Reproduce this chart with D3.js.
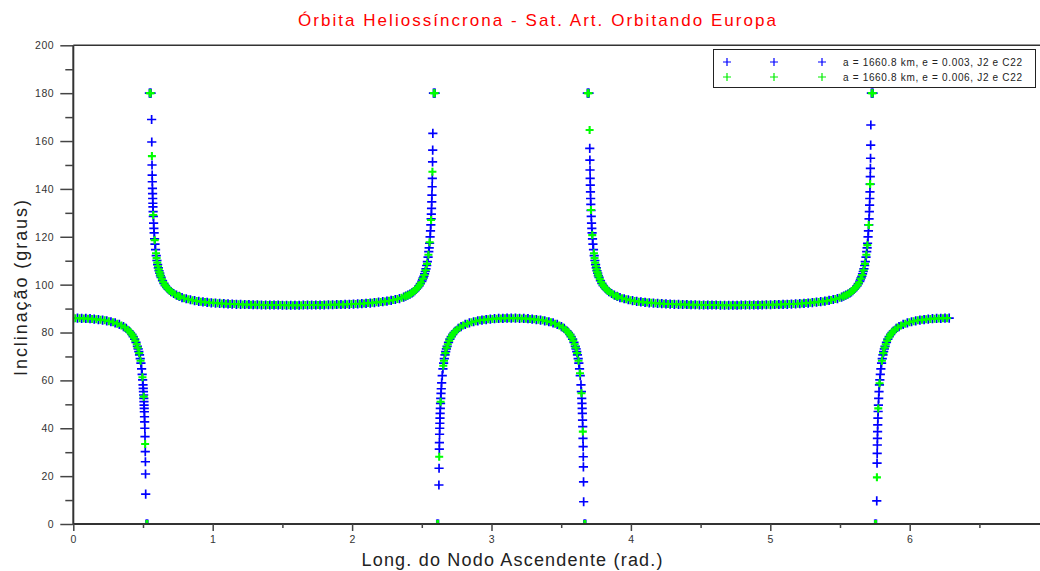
<!DOCTYPE html>
<html>
<head>
<meta charset="utf-8">
<script src="https://cdn.jsdelivr.net/npm/d3@7"></script>
<style>
  body { margin: 0; background: #fff; }
  text { font-family: "Liberation Sans", Arial, sans-serif; }
</style>
</head>
<body>
<svg id="chart" width="1040" height="571"></svg>
<script>
// texts
var titleText = "Órbita Heliossíncrona - Sat. Art. Orbitando Europa";
var xLabelText = "Long. do Nodo Ascendente (rad.)";
var yLabelText = "Inclinação (graus)";
var legendLabels = ["a = 1660.8 km, e = 0.003, J2 e C22", "a = 1660.8 km, e = 0.006, J2 e C22"];

// ticks
var xTicks = [0, 1, 2, 3, 4, 5, 6];
var xMinorTicks = [0.5, 1.5, 2.5, 3.5, 4.5, 5.5, 6.5];
var yTicks = [0, 20, 40, 60, 80, 100, 120, 140, 160, 180, 200];
var yMinorTicks = [10, 30, 50, 70, 90, 110, 130, 150, 170, 190];

// [longitude of ascending node (rad), inclination (deg)]
var blueSeries = [
  [0,86.0],[0.03,86.0],[0.06,85.9],[0.09,85.9],[0.12,85.8],[0.15,85.6],[0.18,85.4],[0.21,85.2],[0.24,84.9],[0.27,84.5],
  [0.30,84.0],[0.33,83.4],[0.36,82.5],[0.38,81.7],[0.40,80.6],[0.41,80.0],[0.42,79.2],[0.43,78.3],[0.44,77.2],[0.45,75.9],
  [0.46,74.2],[0.465,73.2],[0.47,72.0],[0.475,70.7],[0.48,69.1],[0.485,67.2],[0.49,64.8],[0.494,62.5],[0.4975,60.2],
  [0.5002,58.1],[0.5017,56.7],[0.5032,55.3],[0.5045,53.9],[0.5057,52.5],[0.5068,51.1],[0.5078,49.7],[0.5087,48.3],
  [0.5096,46.9],[0.5108,44.8],[0.5119,42.7],[0.5131,40.0],[0.5144,36.5],[0.5163,30.2],[0.5173,26.0],[0.5182,20.9],
  [0.5193,12.5],[0.522,0],[0.528,0],[0.534,0],
  [0.546,180],[0.552,180],[0.558,180],[0.5619,169.0],[0.5629,159.6],[0.5647,150.0],[0.5658,145.8],[0.5667,143.0],
  [0.5677,140.2],[0.5686,138.0],[0.5695,136.0],[0.5705,134.0],[0.5714,132.5],[0.5726,130.5],[0.574,128.5],[0.576,125.7],
  [0.578,123.5],[0.58,121.6],[0.583,119.1],[0.586,116.9],[0.59,114.6],[0.595,112.1],[0.6,110.1],[0.605,108.4],[0.61,107.0],
  [0.615,105.8],[0.62,104.8],[0.625,103.8],[0.63,103.0],[0.64,101.7],[0.65,100.5],[0.66,99.6],[0.67,98.8],[0.68,98.2],
  [0.69,97.6],[0.70,97.1],[0.72,96.3],[0.74,95.6],[0.76,95.1],[0.78,94.6],[0.81,94.1],[0.84,93.7],[0.87,93.3],[0.90,93.0],
  [0.93,92.8],[0.96,92.6],[0.99,92.4],[1.02,92.3],[1.05,92.2],[1.08,92.1],[1.11,92.0],[1.14,91.9],[1.17,91.8],[1.20,91.8],
  [1.23,91.7],[1.26,91.7],[1.29,91.6],[1.32,91.6],[1.35,91.5],[1.38,91.5],[1.41,91.5],[1.44,91.5],[1.47,91.5],[1.50,91.4],
  [1.53,91.4],[1.56,91.4],[1.59,91.4],[1.62,91.4],[1.65,91.5],[1.68,91.5],[1.71,91.5],[1.74,91.5],[1.77,91.5],[1.80,91.5],
  [1.83,91.6],[1.86,91.6],[1.89,91.7],[1.92,91.7],[1.95,91.8],[1.98,91.8],[2.01,91.9],[2.04,92.0],[2.07,92.1],[2.10,92.2],
  [2.13,92.3],[2.16,92.5],[2.19,92.7],[2.22,92.9],[2.25,93.1],[2.28,93.4],[2.31,93.8],[2.34,94.2],[2.37,94.8],[2.385,95.2],
  [2.40,95.6],[2.415,96.0],[2.43,96.6],[2.44,97.0],[2.45,97.5],[2.46,98.1],[2.47,98.7],[2.48,99.5],[2.49,100.4],[2.50,101.4],
  [2.505,102.1],[2.51,102.8],[2.515,103.5],[2.52,104.5],[2.525,105.5],[2.53,106.6],[2.535,108.0],[2.54,109.6],[2.545,111.5],
  [2.55,113.8],[2.553,115.4],[2.556,117.3],[2.5596,120.0],[2.5624,122.5],[2.5648,125.0],[2.5669,127.5],[2.5684,129.5],
  [2.5699,131.9],[2.5714,134.6],[2.5727,137.4],[2.5742,140.9],[2.5754,144.4],[2.5772,151.3],[2.5782,156.2],[2.5792,163.2],
  [2.5836,180],[2.5896,180],[2.5956,180],
  [2.6076,0],[2.6136,0],[2.6196,0],[2.6227,16.3],[2.6238,23.3],[2.6256,31.3],[2.6263,34.0],[2.6275,37.5],[2.6285,40.0],
  [2.6295,42.1],[2.6305,44.2],[2.6316,46.2],[2.6329,48.3],[2.6343,50.4],[2.6359,52.5],[2.6378,54.6],[2.6397,56.5],
  [2.6425,59.0],[2.6466,62.0],[2.6516,64.8],[2.6566,67.2],[2.6616,69.1],[2.6666,70.7],[2.6716,72.0],[2.6766,73.2],
  [2.6816,74.2],[2.6916,75.9],[2.7016,77.2],[2.7116,78.3],[2.7216,79.2],[2.7316,80.0],[2.7416,80.6],[2.7616,81.7],
  [2.7816,82.5],[2.8116,83.4],[2.8416,84.0],[2.8716,84.5],[2.9016,84.9],[2.9316,85.2],[2.9616,85.4],[2.9916,85.6],
  [3.0216,85.8],[3.0516,85.9],[3.0816,85.9],[3.1116,86.0],[3.1416,86.0],[3.1716,86.0],[3.2016,85.9],[3.2316,85.9],
  [3.2616,85.8],[3.2916,85.6],[3.3216,85.4],[3.3516,85.2],[3.3816,84.9],[3.4116,84.5],[3.4416,84.0],[3.4716,83.4],
  [3.5016,82.5],[3.5216,81.7],[3.5416,80.6],[3.5516,80.0],[3.5616,79.2],[3.5716,78.3],[3.5816,77.2],[3.5916,75.9],
  [3.6016,74.2],[3.6066,73.2],[3.6116,72.0],[3.6166,70.7],[3.6216,69.1],[3.6266,67.2],[3.6316,64.8],[3.6366,62.0],
  [3.6418,58.1],[3.6448,55.3],[3.6473,52.5],[3.6489,50.4],[3.6503,48.3],[3.6516,46.2],[3.6531,43.4],[3.6544,40.7],
  [3.6563,35.8],[3.6574,32.3],[3.6584,28.1],[3.6593,23.9],[3.6603,17.6],[3.6611,9.3],[3.6636,0],[3.6696,0],[3.6756,0],
  [3.6876,180],[3.6936,180],[3.6996,180],[3.7049,156.9],[3.7058,152.0],[3.7068,147.9],[3.7078,144.4],[3.7088,141.6],
  [3.7099,138.8],[3.7111,136.0],[3.7124,133.5],[3.7139,131.0],[3.7156,128.5],[3.7176,125.7],[3.7196,123.5],[3.7216,121.6],
  [3.7246,119.1],[3.7276,116.9],[3.7316,114.6],[3.7366,112.1],[3.7416,110.1],[3.7466,108.4],[3.7516,107.0],[3.7566,105.8],
  [3.7616,104.8],[3.7666,103.8],[3.7716,103.0],[3.7816,101.7],[3.7916,100.5],[3.8016,99.6],[3.8116,98.8],[3.8216,98.2],
  [3.8316,97.6],[3.8416,97.1],[3.8616,96.3],[3.8816,95.6],[3.9016,95.1],[3.9216,94.6],[3.9516,94.1],[3.9816,93.7],
  [4.0116,93.3],[4.0416,93.0],[4.0716,92.8],[4.1016,92.6],[4.1316,92.4],[4.1616,92.3],[4.1916,92.2],[4.2216,92.1],
  [4.2516,92.0],[4.2816,91.9],[4.3116,91.8],[4.3416,91.8],[4.3716,91.7],[4.4016,91.7],[4.4316,91.6],[4.4616,91.6],
  [4.4916,91.5],[4.5216,91.5],[4.5516,91.5],[4.5816,91.5],[4.6116,91.5],[4.6416,91.4],[4.6716,91.4],[4.7016,91.4],
  [4.7316,91.4],[4.7616,91.4],[4.7916,91.5],[4.8216,91.5],[4.8516,91.5],[4.8816,91.5],[4.9116,91.5],[4.9416,91.5],
  [4.9716,91.6],[5.0016,91.6],[5.0316,91.7],[5.0616,91.7],[5.0916,91.8],[5.1216,91.8],[5.1516,91.9],[5.1816,92.0],
  [5.2116,92.1],[5.2416,92.2],[5.2716,92.3],[5.3016,92.5],[5.3316,92.7],[5.3616,92.9],[5.3916,93.1],[5.4216,93.4],
  [5.4516,93.8],[5.4816,94.2],[5.5116,94.8],[5.5266,95.2],[5.5416,95.6],[5.5566,96.0],[5.5716,96.6],[5.5816,97.0],
  [5.5916,97.5],[5.6016,98.1],[5.6116,98.7],[5.6216,99.5],[5.6316,100.4],[5.6416,101.4],[5.6466,102.1],[5.6516,102.8],
  [5.6566,103.5],[5.6616,104.5],[5.6666,105.5],[5.6716,106.6],[5.6766,108.0],[5.6816,109.6],[5.6866,111.5],[5.6916,113.8],
  [5.6946,115.4],[5.6976,117.3],[5.7012,120.0],[5.704,122.5],[5.7064,125.0],[5.7085,127.5],[5.7106,130.5],[5.7122,133.2],
  [5.7137,136.0],[5.7149,138.8],[5.7162,142.0],[5.7172,145.1],[5.7182,148.6],[5.7192,152.8],[5.7201,158.3],[5.7211,166.7],
  [5.7252,180],[5.7312,180],[5.7372,180],
  [5.7492,0],[5.7552,0],[5.7612,0],[5.7637,9.7],[5.7658,25.4],[5.7667,29.5],[5.7676,33.0],[5.7685,35.8],[5.7696,38.6],
  [5.7707,41.4],[5.7721,44.2],[5.7737,47.0],[5.7754,49.7],[5.7775,52.5],[5.78,55.3],[5.783,58.1],[5.7857,60.2],
  [5.7892,62.5],[5.7932,64.8],[5.7982,67.2],[5.8032,69.1],[5.8082,70.7],[5.8132,72.0],[5.8182,73.2],[5.8232,74.2],
  [5.8332,75.9],[5.8432,77.2],[5.8532,78.3],[5.8632,79.2],[5.8732,80.0],[5.8832,80.6],[5.9032,81.7],[5.9232,82.5],
  [5.9532,83.4],[5.9832,84.0],[6.0132,84.5],[6.0432,84.9],[6.0732,85.2],[6.1032,85.4],[6.1332,85.6],[6.1632,85.8],
  [6.1932,85.9],[6.2232,85.9],[6.2532,86.0],[6.2832,86.0]
];

var greenSeries = [
  [0.015,86.0],[0.045,86.0],[0.075,85.9],[0.105,85.8],[0.135,85.7],[0.165,85.5],[0.195,85.3],[0.225,85.1],[0.255,84.7],
  [0.285,84.3],[0.315,83.7],[0.345,82.9],[0.37,82.1],[0.39,81.2],[0.405,80.3],[0.415,79.6],[0.425,78.8],[0.435,77.8],
  [0.445,76.6],[0.455,75.1],[0.4625,73.7],[0.4725,71.4],[0.4825,68.2],[0.496,61.3],[0.5051,53.2],[0.5154,33.4],
  [0.525,0],[0.531,0],
  [0.549,180],[0.555,180],[0.5639,153.7],[0.5735,129.1],[0.5839,118.6],[0.5933,113.1],[0.5975,111.1],[0.6025,109.2],
  [0.6075,107.7],[0.6125,106.4],[0.6175,105.3],[0.6225,104.3],[0.6275,103.4],[0.635,102.3],[0.645,101.1],[0.655,100.0],
  [0.665,99.2],[0.675,98.5],[0.685,97.9],[0.695,97.3],[0.71,96.7],[0.73,95.9],[0.75,95.3],[0.765,95.0],[0.795,94.3],
  [0.825,93.9],[0.855,93.5],[0.885,93.2],[0.915,92.9],[0.945,92.7],[0.975,92.5],[1.005,92.4],[1.035,92.2],[1.065,92.1],
  [1.095,92.0],[1.125,91.9],[1.155,91.9],[1.185,91.8],[1.215,91.7],[1.245,91.7],[1.275,91.6],[1.305,91.6],[1.335,91.6],
  [1.365,91.5],[1.395,91.5],[1.425,91.5],[1.455,91.5],[1.485,91.5],[1.515,91.4],[1.545,91.4],[1.575,91.4],[1.605,91.4],
  [1.635,91.4],[1.665,91.5],[1.695,91.5],[1.725,91.5],[1.755,91.5],[1.785,91.5],[1.815,91.6],[1.845,91.6],[1.875,91.6],
  [1.905,91.7],[1.935,91.7],[1.965,91.8],[1.995,91.9],[2.025,91.9],[2.055,92.0],[2.085,92.1],[2.115,92.3],[2.145,92.4],
  [2.175,92.6],[2.205,92.8],[2.235,93.0],[2.265,93.3],[2.295,93.6],[2.325,94.0],[2.355,94.5],[2.3775,95.0],[2.3925,95.4],
  [2.4075,95.8],[2.4225,96.3],[2.435,96.8],[2.445,97.3],[2.455,97.8],[2.465,98.4],[2.475,99.1],[2.485,99.9],[2.495,100.9],
  [2.5075,102.5],[2.5175,104.0],[2.5275,106.0],[2.5375,108.7],[2.5475,112.5],[2.5564,117.7],[2.5665,127.0],[2.5762,147.2],
  [2.5866,180],[2.5926,180],
  [2.6106,0],[2.6166,0],[2.6248,28.1],[2.6348,51.1],[2.6541,66.1],[2.6591,68.2],[2.6691,71.4],[2.6791,73.7],[2.6866,75.1],
  [2.6966,76.6],[2.7066,77.8],[2.7166,78.8],[2.7266,79.6],[2.7366,80.3],[2.7516,81.2],[2.7716,82.1],[2.7966,82.9],
  [2.8266,83.7],[2.8566,84.3],[2.8866,84.7],[2.9166,85.1],[2.9466,85.3],[2.9766,85.5],[3.0066,85.7],[3.0366,85.8],
  [3.0666,85.9],[3.0966,86.0],[3.1266,86.0],[3.1566,86.0],[3.1866,86.0],[3.2166,85.9],[3.2466,85.8],[3.2766,85.7],
  [3.3066,85.5],[3.3366,85.3],[3.3666,85.1],[3.3966,84.7],[3.4266,84.3],[3.4566,83.7],[3.4866,82.9],[3.5116,82.1],
  [3.5316,81.2],[3.5466,80.3],[3.5566,79.6],[3.5666,78.8],[3.5766,77.8],[3.5866,76.6],[3.5966,75.1],[3.6041,73.7],
  [3.6141,71.4],[3.6241,68.2],[3.6349,63.0],[3.6454,54.6],[3.6552,38.6],[3.6666,0],[3.6726,0],
  [3.6906,180],[3.6966,180],[3.7039,164.6],[3.7137,131.2],[3.7228,120.7],[3.7349,113.1],[3.7391,111.1],[3.7441,109.2],
  [3.7491,107.7],[3.7541,106.4],[3.7591,105.3],[3.7641,104.3],[3.7691,103.4],[3.7766,102.3],[3.7866,101.1],[3.7966,100.0],
  [3.8066,99.2],[3.8166,98.5],[3.8266,97.9],[3.8366,97.3],[3.8516,96.7],[3.8716,95.9],[3.8916,95.3],[3.9066,95.0],
  [3.9366,94.3],[3.9666,93.9],[3.9966,93.5],[4.0266,93.2],[4.0566,92.9],[4.0866,92.7],[4.1166,92.5],[4.1466,92.4],
  [4.1766,92.2],[4.2066,92.1],[4.2366,92.0],[4.2666,91.9],[4.2966,91.9],[4.3266,91.8],[4.3566,91.7],[4.3866,91.7],
  [4.4166,91.6],[4.4466,91.6],[4.4766,91.6],[4.5066,91.5],[4.5366,91.5],[4.5666,91.5],[4.5966,91.5],[4.6266,91.5],
  [4.6566,91.4],[4.6866,91.4],[4.7166,91.4],[4.7466,91.4],[4.7766,91.4],[4.8066,91.5],[4.8366,91.5],[4.8666,91.5],
  [4.8966,91.5],[4.9266,91.5],[4.9566,91.6],[4.9866,91.6],[5.0166,91.6],[5.0466,91.7],[5.0766,91.7],[5.1066,91.8],
  [5.1366,91.9],[5.1666,91.9],[5.1966,92.0],[5.2266,92.1],[5.2566,92.3],[5.2866,92.4],[5.3166,92.6],[5.3466,92.8],
  [5.3766,93.0],[5.4066,93.3],[5.4366,93.6],[5.4666,94.0],[5.4966,94.5],[5.5191,95.0],[5.5341,95.4],[5.5491,95.8],
  [5.5641,96.3],[5.5766,96.8],[5.5866,97.3],[5.5966,97.8],[5.6066,98.4],[5.6166,99.1],[5.6266,99.9],[5.6366,100.9],
  [5.6491,102.5],[5.6591,104.0],[5.6691,106.0],[5.6791,108.7],[5.6891,112.5],[5.6962,116.5],[5.7063,124.9],[5.7162,142.0],
  [5.7282,180],[5.7342,180],
  [5.7522,0],[5.7582,0],[5.7648,19.5],[5.7745,48.3],[5.7839,58.8],[5.8007,68.2],[5.8107,71.4],[5.8207,73.7],[5.8282,75.1],
  [5.8382,76.6],[5.8482,77.8],[5.8582,78.8],[5.8682,79.6],[5.8782,80.3],[5.8932,81.2],[5.9132,82.1],[5.9382,82.9],
  [5.9682,83.7],[5.9982,84.3],[6.0282,84.7],[6.0582,85.1],[6.0882,85.3],[6.1182,85.5],[6.1482,85.7],[6.1782,85.8],
  [6.2082,85.9],[6.2382,86.0],[6.2682,86.0]
];

var svg = d3.select("#chart");

var plotLeft = 73.3, plotRight = 1049.1, plotTop = 45.3, plotBottom = 524;
var x = d3.scaleLinear().domain([0, 7]).range([plotLeft, plotRight]);
var y = d3.scaleLinear().domain([0, 200]).range([plotBottom, plotTop]);

// title
svg.append("text")
  .attr("x", 537).attr("y", 26)
  .attr("text-anchor", "middle")
  .attr("font-size", 17)
  .attr("fill", "#ff0000")
  .attr("textLength", 478).attr("lengthAdjust", "spacing")
  .text(titleText);

// clip for the marks
svg.append("clipPath").attr("id", "plotclip")
  .append("rect")
  .attr("x", plotLeft).attr("y", plotTop)
  .attr("width", plotRight - plotLeft).attr("height", plotBottom - plotTop);

var marks = svg.append("g").attr("clip-path", "url(#plotclip)");

function plus(r) { return "M" + (-r) + ",0H" + r + "M0," + (-r) + "V" + r; }

marks.selectAll("path.blue")
  .data(blueSeries)
  .enter().append("path")
  .attr("class", "blue")
  .attr("d", plus(4.6))
  .attr("transform", function(d) { return "translate(" + x(d[0]) + "," + y(d[1]) + ")"; })
  .attr("fill", "none")
  .attr("stroke", "#0000ff")
  .attr("stroke-width", 1.7);

marks.selectAll("path.green")
  .data(greenSeries)
  .enter().append("path")
  .attr("class", "green")
  .attr("d", plus(4))
  .attr("transform", function(d) { return "translate(" + x(d[0]) + "," + y(d[1]) + ")"; })
  .attr("fill", "none")
  .attr("stroke", "#00ff00")
  .attr("stroke-width", 2.1);

// frame
svg.append("line").attr("x1", plotLeft).attr("x2", plotRight).attr("y1", plotTop).attr("y2", plotTop)
  .attr("stroke", "#333").attr("stroke-width", 1.5);
svg.append("line").attr("x1", plotLeft).attr("x2", plotRight).attr("y1", plotBottom).attr("y2", plotBottom)
  .attr("stroke", "#333").attr("stroke-width", 2);
svg.append("line").attr("x1", plotLeft).attr("x2", plotLeft).attr("y1", plotTop).attr("y2", plotBottom)
  .attr("stroke", "#333").attr("stroke-width", 2);

// y axis
svg.append("g").attr("transform", "translate(" + plotLeft + ",0)")
  .call(d3.axisLeft(y).tickValues(yTicks).tickSize(13).tickPadding(6).tickFormat(d3.format("d")));
svg.append("g").attr("transform", "translate(" + plotLeft + ",0)")
  .call(d3.axisLeft(y).tickValues(yMinorTicks).tickSize(8).tickFormat(""));

// x axis
svg.append("g").attr("transform", "translate(0," + plotBottom + ")")
  .call(d3.axisBottom(x).tickValues(xTicks).tickSize(7).tickPadding(5).tickFormat(d3.format("d")));
svg.append("g").attr("transform", "translate(0," + plotBottom + ")")
  .call(d3.axisBottom(x).tickValues(xMinorTicks).tickSize(4).tickFormat(""));

svg.selectAll(".domain").remove();
svg.selectAll(".tick line").attr("stroke", "#444").attr("stroke-width", 1.5);
svg.selectAll(".tick text")
  .attr("font-family", "Liberation Sans, Arial, sans-serif")
  .attr("font-size", 10.5)
  .attr("letter-spacing", 0.6)
  .attr("fill", "#333");

// axis labels
svg.append("text")
  .attr("x", 512).attr("y", 566)
  .attr("text-anchor", "middle")
  .attr("font-size", 18)
  .attr("fill", "#222")
  .attr("textLength", 301).attr("lengthAdjust", "spacing")
  .text(xLabelText);

svg.append("text")
  .attr("transform", "translate(27,288) rotate(-90)")
  .attr("text-anchor", "middle")
  .attr("font-size", 18)
  .attr("fill", "#222")
  .attr("textLength", 176).attr("lengthAdjust", "spacing")
  .text(yLabelText);

// legend
var legend = svg.append("g");
legend.append("rect")
  .attr("x", 713.5).attr("y", 49.5).attr("width", 322).attr("height", 38)
  .attr("fill", "#fff").attr("stroke", "#222").attr("stroke-width", 1);

var legendColors = ["#0000ff", "#00ee00"];
var legendMarkX = [727, 774, 822];
legendLabels.forEach(function(label, i) {
  var ly = 62 + i * 15;
  legendMarkX.forEach(function(mx) {
    legend.append("path")
      .attr("d", plus(4))
      .attr("transform", "translate(" + mx + "," + ly + ")")
      .attr("fill", "none")
      .attr("stroke", legendColors[i])
      .attr("stroke-width", 1.2);
  });
  legend.append("text")
    .attr("x", 843).attr("y", ly + 4)
    .attr("font-size", 10)
    .attr("fill", "#222")
    .attr("textLength", 179).attr("lengthAdjust", "spacing")
    .text(label);
});
</script>
</body>
</html>
